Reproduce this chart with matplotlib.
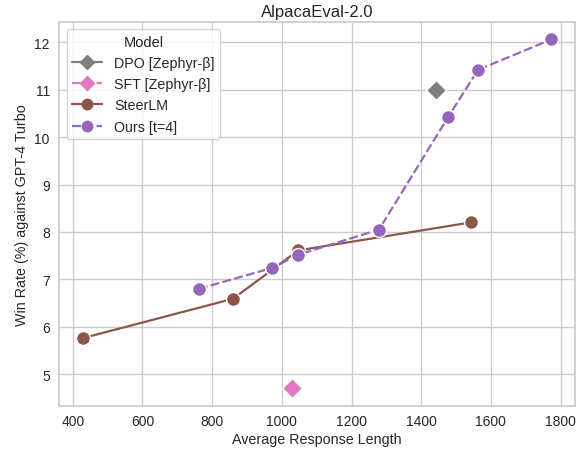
import matplotlib
matplotlib.use("Agg")
import matplotlib.pyplot as plt
import seaborn as sns

sns.set_theme(style="whitegrid")
plt.rcParams['font.family'] = ['Liberation Sans', 'DejaVu Sans']
plt.rcParams['xtick.major.size'] = 0
plt.rcParams['ytick.major.size'] = 0

# data
dpo_x = [1442]
dpo_y = [11.0]
sft_x = [1030]
sft_y = [4.7]
steer_x = [429, 860, 1047, 1542]
steer_y = [5.76, 6.59, 7.61, 8.2]
ours_x = [762, 972, 1047, 1279, 1477, 1563, 1773]
ours_y = [6.8, 7.24, 7.52, 8.05, 10.42, 11.42, 12.06]

fig = plt.figure(figsize=(5.86, 4.52), dpi=100)
ax = fig.add_axes([0.1015, 0.1, 0.879, 0.849])

kw = dict(markeredgecolor="white", markeredgewidth=1.0, linewidth=1.6)
ax.plot(dpo_x, dpo_y, "-D", color="tab:gray", markersize=10.5, label="DPO [Zephyr-β]", **kw)
ax.plot(sft_x, sft_y, "--D", color="tab:pink", markersize=10.5, dashes=(4, 1.5), label="SFT [Zephyr-β]", **kw)
ax.plot(steer_x, steer_y, "-o", color="tab:brown", markersize=10, label="SteerLM", **kw)
ax.plot(ours_x, ours_y, "--o", color="tab:purple", markersize=10, dashes=(4, 1.5), label="Ours [t=4]", **kw)

ax.set_xticks([400, 600, 800, 1000, 1200, 1400, 1600, 1800])
ax.tick_params(axis="x", labelsize=10, pad=6)
ax.tick_params(axis="y", labelsize=10, pad=7)
ax.set_xlabel("Average Response Length", fontsize=10.3, labelpad=3)
ax.set_ylabel("Win Rate (%) against GPT-4 Turbo", fontsize=10.3, labelpad=4)
ax.set_title("AlpacaEval-2.0", fontsize=12, pad=4)
leg = ax.legend(title="Model", loc="upper left", fontsize=10.3, title_fontsize=10.5,
                handlelength=2.1, borderaxespad=0.5)
for h in leg.legend_handles:
    h.set_markeredgecolor(h.get_color())
    h.set_markersize(7.5)

fig.savefig("out.png", dpi=100)
